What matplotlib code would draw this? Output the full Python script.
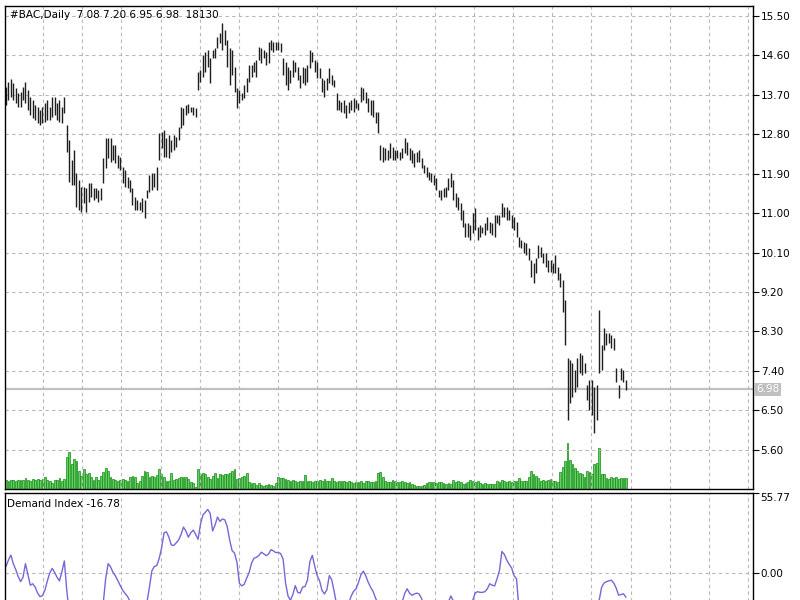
import numpy as np
import matplotlib.pyplot as plt
from matplotlib.transforms import blended_transform_factory

# Daily bars (high / low of each bar)
symbol = "#BAC,Daily"
highs = [
    13.88, 13.99, 14.06, 13.97, 13.86, 13.74, 13.77, 13.88, 13.99, 13.81,
    13.65, 13.58, 13.47, 13.42, 13.35, 13.42, 13.51, 13.58, 13.42, 13.65,
    13.65, 13.51, 13.58, 13.42, 13.65, 13.01, 12.67, 12.21, 12.44, 11.92,
    11.76, 11.60, 11.60, 11.57, 11.69, 11.69, 11.57, 11.57, 11.53, 11.57,
    12.26, 12.72, 12.72, 12.72, 12.56, 12.56, 12.33, 12.28, 12.05, 11.98,
    11.82, 11.76, 11.57, 11.37, 11.30, 11.25, 11.34, 11.30, 11.53, 11.87,
    11.92, 11.92, 12.05, 12.83, 12.85, 12.90, 12.72, 12.78, 12.67, 12.78,
    12.74, 12.97, 13.42, 13.40, 13.47, 13.49, 13.42, 13.42, 13.40, 14.22,
    14.27, 14.61, 14.68, 14.72, 14.54, 14.72, 14.77, 15.02, 15.11, 15.34,
    15.18, 14.95, 14.77, 14.72, 14.34, 13.86, 13.81, 13.74, 13.92, 14.08,
    14.38, 14.38, 14.45, 14.50, 14.79, 14.77, 14.72, 14.68, 14.91, 14.95,
    14.91, 14.91, 14.91, 14.88, 14.54, 14.45, 14.34, 14.27, 14.50, 14.45,
    14.34, 14.15, 14.34, 14.31, 14.38, 14.72, 14.68, 14.50, 14.45, 14.31,
    14.08, 14.04, 14.08, 14.31, 14.15, 14.04, 13.74, 13.58, 13.54, 13.58,
    13.47, 13.54, 13.58, 13.63, 13.58, 13.51, 13.88, 13.86, 13.77, 13.63,
    13.58, 13.58, 13.31, 13.31, 12.56, 12.51, 12.49, 12.44, 12.60, 12.51,
    12.44, 12.44, 12.40, 12.49, 12.72, 12.62, 12.49, 12.44, 12.37, 12.40,
    12.44, 12.26, 12.10, 12.05, 11.94, 11.92, 11.87, 11.80, 11.53, 11.53,
    11.57, 11.60, 11.80, 11.92, 11.76, 11.46, 11.37, 11.23, 11.07, 10.77,
    10.77, 10.73, 11.00, 11.12, 10.68, 10.73, 10.68, 10.77, 10.91, 10.80,
    10.77, 10.96, 10.96, 10.96, 11.23, 11.14, 11.14, 11.07, 10.96, 10.91,
    10.80, 10.46, 10.39, 10.34, 10.32, 10.21, 9.93, 9.86, 9.97, 10.27,
    10.23, 10.09, 10.09, 9.93, 9.93, 9.86, 10.04, 9.77, 9.63, 9.47,
    9.02, 7.69, 7.65, 7.58, 7.42, 7.69, 7.81, 7.76, 7.58, 7.08,
    7.19, 7.19, 7.03, 7.08, 8.79, 7.99, 8.38, 8.26, 8.26, 8.22,
    8.15, 7.46, 7.08, 7.46, 7.42, 7.20,
]
lows = [
    13.47, 13.58, 13.65, 13.58, 13.51, 13.42, 13.42, 13.58, 13.51, 13.35,
    13.24, 13.17, 13.13, 13.06, 13.01, 13.06, 13.08, 13.13, 13.13, 13.19,
    13.24, 13.13, 13.08, 13.06, 13.29, 12.40, 11.71, 11.64, 11.64, 11.14,
    11.07, 11.02, 11.23, 11.02, 11.25, 11.37, 11.30, 11.34, 11.25, 11.30,
    11.69, 12.03, 12.26, 12.17, 12.21, 12.14, 12.03, 11.98, 11.69, 11.60,
    11.57, 11.48, 11.18, 11.07, 11.07, 11.07, 11.02, 10.89, 11.34, 11.48,
    11.53, 11.60, 11.53, 12.21, 12.49, 12.28, 12.28, 12.26, 12.40, 12.44,
    12.51, 12.67, 12.94, 13.01, 13.24, 13.29, 13.31, 13.24, 13.19, 13.81,
    13.99, 14.11, 14.22, 14.34, 13.97, 14.54, 14.54, 14.77, 14.88, 14.72,
    14.84, 14.34, 13.92, 14.15, 13.77, 13.40, 13.51, 13.58, 13.63, 13.77,
    13.99, 14.11, 14.22, 14.11, 14.50, 14.43, 14.54, 14.38, 14.43, 14.72,
    14.68, 14.72, 14.72, 14.68, 14.15, 13.92, 13.81, 13.97, 14.11, 14.22,
    14.04, 13.86, 13.97, 13.92, 13.99, 14.31, 14.45, 14.22, 14.08, 14.08,
    13.77, 13.65, 13.81, 13.97, 13.92, 13.88, 13.35, 13.35, 13.31, 13.29,
    13.17, 13.29, 13.35, 13.31, 13.40, 13.35, 13.54, 13.58, 13.51, 13.31,
    13.24, 13.19, 13.06, 12.83, 12.21, 12.17, 12.21, 12.21, 12.26, 12.21,
    12.21, 12.26, 12.21, 12.26, 12.37, 12.33, 12.21, 12.14, 12.05, 12.17,
    12.17, 12.03, 11.92, 11.82, 11.76, 11.71, 11.64, 11.53, 11.37, 11.30,
    11.37, 11.37, 11.53, 11.60, 11.30, 11.14, 11.07, 10.84, 10.68, 10.46,
    10.46, 10.39, 10.55, 10.61, 10.39, 10.46, 10.55, 10.50, 10.61, 10.55,
    10.50, 10.46, 10.77, 10.73, 10.91, 10.91, 10.84, 10.84, 10.66, 10.61,
    10.46, 10.23, 10.21, 10.09, 10.04, 9.93, 9.54, 9.40, 9.63, 9.97,
    10.00, 9.86, 9.77, 9.65, 9.65, 9.63, 9.63, 9.47, 9.31, 8.74,
    7.99, 6.28, 6.66, 6.80, 6.92, 7.03, 7.35, 7.30, 7.35, 6.73,
    6.50, 6.39, 5.98, 6.28, 7.35, 7.42, 7.87, 7.99, 8.04, 7.92,
    7.87, 7.14, 6.78, 7.19, 7.14, 6.95,
]
volumes = [
    14850, 13200, 14850, 14850, 13200, 14850, 14850, 14850, 18150, 14850,
    13200, 16500, 14850, 16500, 14850, 16500, 19800, 14850, 13200, 9900,
    14850, 14850, 18150, 13200, 16500, 52800, 61050, 41250, 49500, 46200,
    29700, 21450, 33000, 24750, 26400, 19800, 14850, 19800, 14850, 21450,
    28050, 34650, 29700, 19800, 16500, 14850, 13200, 14850, 16500, 14850,
    13200, 19800, 21450, 19800, 9900, 13200, 21450, 29700, 28050, 19800,
    21450, 19800, 23100, 33000, 24750, 19800, 13200, 13200, 26400, 14850,
    16500, 18150, 19800, 19800, 19800, 16500, 11550, 9900, 3300, 33000,
    24750, 26400, 24750, 19800, 16500, 21450, 26400, 18150, 24750, 23100,
    24750, 24750, 26400, 29700, 33000, 16500, 18150, 19800, 21450, 26400,
    11550, 9900, 9900, 6600, 9900, 6600, 4950, 6600, 8250, 6600,
    4950, 9900, 19800, 18150, 18150, 16500, 14850, 13200, 14850, 13200,
    11550, 13200, 13200, 23100, 13200, 13200, 11550, 13200, 13200, 14850,
    13200, 16500, 13200, 13200, 18150, 13200, 11550, 13200, 13200, 13200,
    11550, 13200, 11550, 9900, 11550, 11550, 13200, 9900, 13200, 13200,
    11550, 11550, 13200, 26400, 28050, 19800, 13200, 11550, 11550, 14850,
    13200, 11550, 11550, 13200, 11550, 9900, 11550, 8250, 6600, 4950,
    4950, 4950, 6600, 9900, 11550, 11550, 11550, 9900, 11550, 11550,
    9900, 8250, 9900, 8250, 14850, 11550, 13200, 11550, 8250, 9900,
    11550, 14850, 13200, 11550, 13200, 9900, 8250, 9900, 8250, 8250,
    8250, 8250, 13200, 11550, 14850, 13200, 11550, 13200, 11550, 13200,
    13200, 18150, 13200, 13200, 13200, 19800, 29700, 24750, 21450, 18150,
    13200, 14850, 13200, 14850, 16500, 13200, 13200, 11550, 28050, 36300,
    46200, 75900, 47850, 41250, 34650, 29700, 26400, 24750, 19800, 29700,
    28050, 24750, 41250, 42900, 67650, 24750, 24750, 18150, 16500, 19800,
    18150, 19800, 16500, 18150, 18150, 18130,
]
demand_index = [
    4.6, 9.0, 12.5, 6.5, 2.5, -2.4, -6.0, -3.0, 6.5, -1.0,
    -8.5, -7.5, -9.8, -14.0, -16.5, -15.8, -12.0, -5.5, 0.0, 3.2,
    0.5, -3.0, -5.5, 1.0, 8.4, -12.0, -28, -34, -38, -42,
    -44, -45, -43, -42, -40, -38, -36, -33, -30, -26,
    -21, -4.0, 6.5, 4.3, 0.5, -2.0, -5.3, -8.8, -12.0, -14.3,
    -16.3, -19.8, -24, -28, -30, -29, -27, -23, -20, -10,
    1.5, 4.5, 5.2, 10.0, 17.5, 28.0, 28.7, 25.0, 19.5, 19.2,
    21.0, 23.0, 26.8, 32.0, 29.3, 25.0, 28.0, 29.9, 27.0, 23.5,
    34.0, 40.5, 42.3, 44.3, 41.5, 29.3, 33.5, 39.0, 36.0, 37.6,
    37.1, 32.4, 23.0, 15.7, 13.8, 7.5, -7.2, -9.0, -7.8, -3.6,
    0.3, 6.8, 10.3, 10.9, 12.2, 14.5, 13.4, 12.1, 13.2, 16.3,
    15.4, 14.2, 14.4, 13.5, 9.6, -7.0, -16.0, -19.0, -15.0, -8.8,
    -13.5, -14.0, -9.8, -9.5, -5.0, 8.0, 12.3, 4.7, -1.8, -5.5,
    -12.2, -14.6, -11.6, -1.8, -4.8, -13.0, -22, -26, -28, -27,
    -25, -21, -16, -12.7, -11, -6.5, -1.2, 1.3, -2, -6.5,
    -10, -12.8, -17.5, -21, -26, -30, -33, -35, -34, -32,
    -30, -28, -25, -20, -14.3, -11, -14, -15.5, -14.6, -14,
    -14.7, -18, -24, -28, -31, -33, -34, -33, -31, -29,
    -26, -23, -20, -16, -19.5, -24, -27, -29, -30, -28,
    -25, -22, -19, -14, -13, -13.5, -13.5, -13, -11, -7.5,
    -8.5, -9, -4, 2, 15, 13, 9, 6, 3.5, -2,
    -4, -25, -30, -35, -40, -44, -48, -50, -52, -55,
    -58, -62, -66, -70, -75, -80, -78, -74, -70, -68,
    -65, -62, -60, -56, -52, -48, -44, -40, -36, -32,
    -30, -28, -25, -22, -19, -10, -7, -6, -5.5, -5,
    -7, -10.5, -15.5, -15, -14.5, -16.78,
]
last_open, last_close = 7.08, 6.98

price_ticks = [15.50, 14.60, 13.70, 12.80, 11.90, 11.00, 10.10, 9.20,
               8.30, 7.40, 6.50, 5.60]
di_ticks = [55.77, 0.00]

n = len(highs)
x = np.arange(n)

# geometry of the terminal window (pixels of an 800x600 picture)
px_bar = 2.431
x0_px = 6
xlim = ((5 - x0_px) / px_bar, (753 - x0_px) / px_bar)
grid_x = [(gx - x0_px) / px_bar for gx in np.arange(43, 752, 39.17)]
grid_kw = dict(color="#b8b8b8", linestyle=(0, (3, 3)), linewidth=0.8)

plt.rcParams["font.family"] = "DejaVu Sans"
fig = plt.figure(figsize=(8, 6), dpi=100)

# main window: volumes behind, price bars on top
ax_vol = fig.add_axes([5 / 800, 111 / 600, 748 / 800, 483 / 600])
ax = fig.add_axes([5 / 800, 111 / 600, 748 / 800, 483 / 600])
ax.patch.set_visible(False)

ax_vol.bar(x, volumes, width=0.75, color="#62d062", edgecolor="#108a10",
           linewidth=0.5)
ax_vol.set_ylim(0, 483 * 1650)
ax_vol.set_xlim(*xlim)
ax_vol.axis("off")

ax.vlines(x, lows, highs, color="#1e1e1e", linewidth=1.0)
ax.axhline(last_close, color="#c0c0c0", linewidth=1.6, zorder=0)
ax.set_xlim(*xlim)
ax.set_ylim(4.701, 15.728)
ax.set_yticks(price_ticks)
ax.set_yticklabels([f"{t:.2f}" for t in price_ticks])
ax.yaxis.tick_right()
ax.set_xticks([])
for gx in grid_x:
    ax.axvline(gx, zorder=0, **grid_kw)
for t in price_ticks:
    ax.axhline(t, zorder=0, **grid_kw)

tr = blended_transform_factory(ax.transAxes, ax.transData)
ax.text(1.004, last_close, f"{last_close:.2f}", transform=tr, fontsize=7.5,
        color="white", va="center", ha="left",
        bbox=dict(boxstyle="square,pad=0.15", fc="#c0c0c0", ec="none"))

fig.text(10 / 800, 1 - 15 / 600,
         f"{symbol}  {last_open:.2f} {highs[-1]:.2f} {lows[-1]:.2f} "
         f"{last_close:.2f}  {volumes[-1]}",
         fontsize=7.5, va="center", ha="left")

# Demand Index window (cut by the picture's bottom edge)
ax_di = fig.add_axes([5 / 800, -40 / 600, 748 / 800, 147 / 600])
ax_di.plot(x, demand_index, color="#7468d8", linewidth=1.0)
ax_di.set_xlim(*xlim)
ax_di.set_ylim(-46.7, 55.77)
ax_di.set_yticks(di_ticks)
ax_di.set_yticklabels([f"{t:.2f}" for t in di_ticks])
ax_di.yaxis.tick_right()
ax_di.set_xticks([])
for gx in grid_x:
    ax_di.axvline(gx, zorder=0, **grid_kw)
ax_di.axhline(0, zorder=0, **grid_kw)
ax_di.get_yticklabels()[0].set_verticalalignment("top")

fig.text(7 / 800, 1 - 504 / 600, f"Demand Index {demand_index[-1]:.2f}",
         fontsize=7.5, va="center", ha="left")

for a in (ax, ax_di):
    for s in a.spines.values():
        s.set_color("black")
        s.set_linewidth(1.0)
    a.tick_params(axis="y", direction="out", length=4, width=0.8,
                  labelsize=7.5, pad=1.5, colors="black")

plt.savefig("out.png", dpi=100)
